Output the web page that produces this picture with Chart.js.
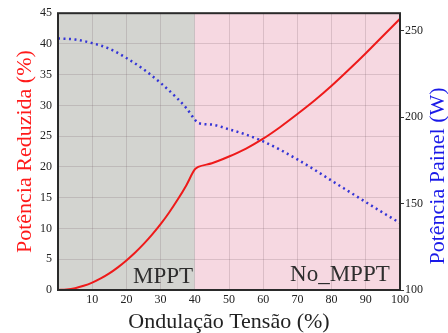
<!DOCTYPE html>
<html>
<head>
<meta charset="utf-8">
<script src="https://cdn.jsdelivr.net/npm/chart.js@4/dist/chart.umd.min.js"></script>
<style>
  html, body { margin: 0; padding: 0; background: #fff; }
  #wrap { width: 448px; height: 333px; }
</style>
</head>
<body>
<div id="wrap"><canvas id="chart"></canvas></div>
<script>
// ripple (%) on the x axis
const xRed = [0, 2.5, 5, 7.5, 10, 12.5, 15, 17.5, 20, 22.5, 25, 27.5, 30, 32.5, 35, 37.5, 40,
  41, 45, 50, 55, 60, 65, 70, 75, 80, 85, 90, 95, 100];
// reduced power (%) - left axis
const redValues = [0, 0.08, 0.3, 0.68, 1.2, 1.88, 2.7, 3.68, 4.8, 6.05, 7.45, 9.0, 10.7, 12.6, 14.7, 17.0, 19.6,
  20.0, 20.6, 21.7, 23.0, 24.6, 26.5, 28.6, 30.8, 33.2, 35.8, 38.5, 41.3, 44.1];

const xBlue = [0, 5, 10, 15, 20, 25, 30, 35, 37.5, 40, 41, 45, 50, 55, 60, 65, 70, 75, 80, 85, 90, 95, 100];
// panel power (W) - right axis
const blueValues = [245.4, 244.8, 242.7, 239.5, 234.1, 227.6, 219.7, 210.5, 205.2, 198.5, 196.5, 195.6,
  192.9, 189.8, 185.9, 181.0, 175.5, 169.5, 163.2, 157.0, 150.8, 144.7, 138.7];

const rightTicks = [100, 150, 200, 250];
const splitAt = 40; // MPPT | No_MPPT boundary

const serif = "'Liberation Serif', 'DejaVu Serif', serif";

// shaded regions + frame + region labels + right axis title
const regions = {
  id: 'regions',
  beforeDraw(chart) {
    const { ctx, chartArea: a, scales } = chart;
    const xs = scales.x.getPixelForValue(splitAt);
    ctx.save();
    ctx.fillStyle = 'rgb(211,212,208)';
    ctx.fillRect(a.left, a.top, xs - a.left, a.bottom - a.top);
    ctx.fillStyle = 'rgb(246,216,225)';
    ctx.fillRect(xs, a.top, a.right - xs, a.bottom - a.top);
    ctx.restore();
  },
  afterDraw(chart) {
    const { ctx, chartArea: a, scales } = chart;
    ctx.save();
    ctx.strokeStyle = '#2a2a2a';
    ctx.lineWidth = 2;
    ctx.strokeRect(a.left, a.top, a.right - a.left, a.bottom - a.top);

    ctx.fillStyle = '#2e2e2e';
    ctx.font = '23px ' + serif;
    ctx.textAlign = 'right';
    ctx.textBaseline = 'alphabetic';
    ctx.fillText('MPPT', scales.x.getPixelForValue(39.5), a.bottom - 7);
    ctx.fillText('No_MPPT', scales.x.getPixelForValue(97), a.bottom - 9);

    // right title reads bottom-to-top like the left one
    ctx.translate(438, 176);
    ctx.rotate(-Math.PI / 2);
    ctx.textAlign = 'center';
    ctx.textBaseline = 'middle';
    ctx.fillStyle = '#1a1ae8';
    ctx.font = '22px ' + serif;
    ctx.fillText('Potência Painel (W)', 0, 0);
    ctx.restore();
  }
};

new Chart(document.getElementById('chart'), {
  type: 'line',
  data: {
    datasets: [{
      label: 'Potência Reduzida',
      data: xRed.map((x, i) => ({ x, y: redValues[i] })),
      yAxisID: 'y',
      borderColor: '#ee1a1a',
      borderWidth: 2,
      pointRadius: 0,
      cubicInterpolationMode: 'monotone'
    }, {
      label: 'Potência Painel',
      data: xBlue.map((x, i) => ({ x, y: blueValues[i] })),
      yAxisID: 'y1',
      borderColor: '#3535d6',
      borderWidth: 2.5,
      borderDash: [2, 3.5],
      pointRadius: 0,
      cubicInterpolationMode: 'monotone'
    }]
  },
  options: {
    responsive: true,
    maintainAspectRatio: false,
    animation: false,
    layout: { padding: { top: 11 } },
    plugins: { legend: { display: false }, tooltip: { enabled: false } },
    scales: {
      x: {
        type: 'linear',
        min: 0, max: 100,
        afterFit: s => { s.height = 43; },
        grid: { color: 'rgba(120,95,105,0.22)', drawTicks: false },
        border: { display: false },
        ticks: {
          stepSize: 10, padding: 3, color: '#222',
          font: { family: serif, size: 12 },
          callback: v => (v === 0 ? '' : v)
        },
        title: {
          display: true, text: 'Ondulação Tensão (%)', color: '#222',
          font: { family: serif, size: 22, lineHeight: 1 }, padding: { top: 0, bottom: 0 }
        }
      },
      y: {
        position: 'left',
        min: 0, max: 45,
        afterFit: s => { s.width = 58; },
        grid: { color: 'rgba(120,95,105,0.22)', drawTicks: false },
        border: { display: false },
        ticks: {
          stepSize: 5, padding: 6, color: '#222',
          font: { family: serif, size: 12 }
        },
        title: {
          display: true, text: 'Potência Reduzida (%)', color: '#ff1a1a',
          font: { family: serif, size: 22, lineHeight: 1 }, padding: { top: 14, bottom: 0 }
        }
      },
      y1: {
        position: 'right',
        min: 100, max: 260,
        afterFit: s => { s.width = 48; },
        afterBuildTicks: s => { s.ticks = rightTicks.map(v => ({ value: v })); },
        grid: { drawOnChartArea: false, drawTicks: true, tickLength: 4, color: '#333' },
        border: { display: false },
        ticks: {
          padding: 1, color: '#222',
          font: { family: serif, size: 12 }
        }
      }
    }
  },
  plugins: [regions]
});
</script>
</body>
</html>
